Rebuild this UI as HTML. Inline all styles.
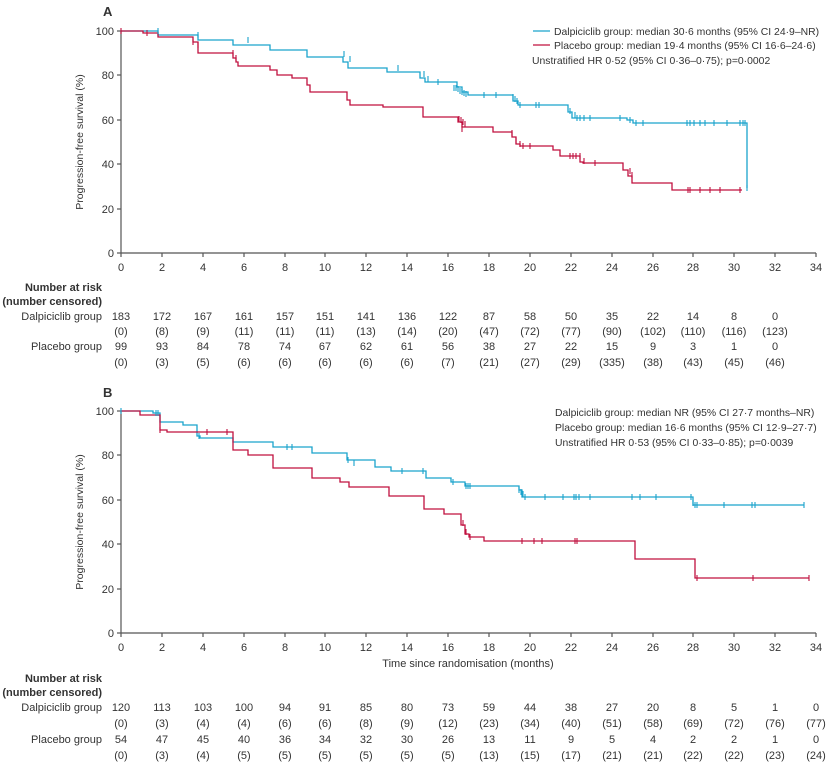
<!DOCTYPE html>
<html><head><meta charset="utf-8"><style>
body{margin:0;background:#fff;}
svg{display:block;font-family:"Liberation Sans",sans-serif;}
text{font-size:11px;fill:#333;}
.lg{font-size:10.4px;}
</style></head><body>
<svg width="834" height="762" viewBox="0 0 834 762">
<defs>
<g id="xt">
<line x1="121" y1="0" x2="121" y2="4"/><line x1="162" y1="0" x2="162" y2="4"/><line x1="203" y1="0" x2="203" y2="4"/><line x1="244" y1="0" x2="244" y2="4"/><line x1="285" y1="0" x2="285" y2="4"/><line x1="325" y1="0" x2="325" y2="4"/><line x1="366" y1="0" x2="366" y2="4"/><line x1="407" y1="0" x2="407" y2="4"/><line x1="448" y1="0" x2="448" y2="4"/><line x1="489" y1="0" x2="489" y2="4"/><line x1="530" y1="0" x2="530" y2="4"/><line x1="571" y1="0" x2="571" y2="4"/><line x1="612" y1="0" x2="612" y2="4"/><line x1="653" y1="0" x2="653" y2="4"/><line x1="693" y1="0" x2="693" y2="4"/><line x1="734" y1="0" x2="734" y2="4"/><line x1="775" y1="0" x2="775" y2="4"/><line x1="816" y1="0" x2="816" y2="4"/>
</g>
<g id="xl" text-anchor="middle">
<text x="121">0</text><text x="162">2</text><text x="203">4</text><text x="244">6</text><text x="285">8</text><text x="325">10</text><text x="366">12</text><text x="407">14</text><text x="448">16</text><text x="489">18</text><text x="530">20</text><text x="571">22</text><text x="612">24</text><text x="653">26</text><text x="693">28</text><text x="734">30</text><text x="775">32</text><text x="816">34</text>
</g>
</defs>

<!-- Panel A -->
<text x="103" y="16" style="font-weight:bold;font-size:13px">A</text>
<g stroke="#555" stroke-width="1.2" fill="none">
<line x1="121" y1="31" x2="121" y2="253"/><line x1="121" y1="253" x2="816" y2="253"/>
<line x1="117" y1="31" x2="121" y2="31"/><line x1="117" y1="75" x2="121" y2="75"/><line x1="117" y1="120" x2="121" y2="120"/><line x1="117" y1="164" x2="121" y2="164"/><line x1="117" y1="209" x2="121" y2="209"/><line x1="117" y1="253" x2="121" y2="253"/>
<use href="#xt" transform="translate(0,253)"/>
</g>
<g text-anchor="end"><text x="114" y="35">100</text><text x="114" y="79">80</text><text x="114" y="124">60</text><text x="114" y="168">40</text><text x="114" y="213">20</text><text x="114" y="257">0</text></g>
<text transform="translate(83,142) rotate(-90)" text-anchor="middle" style="font-size:10.5px">Progression-free survival (%)</text>
<use href="#xl" transform="translate(0,271)"/>

<polyline fill="none" stroke="#1aa3cc" stroke-width="1.3" points="121,31 158,31 158,35 198,35 198,40 233,40 233,45 270,45 270,50 307,50 307,57 343,57 343,62 348,62 348,68 387,68 387,72 420,72 420,78 425,78 425,82 457,82 457,87 462,87 462,92 468,92 468,95 513,95 513,101 518,101 518,105 568,105 568,112 572,112 572,118 627,118 627,120 633,120 633,123 747,123 747,188"/>
<polyline fill="none" stroke="#c0103f" stroke-width="1.3" points="121,31 143,31 143,33 158,33 158,37 193,37 193,42 198,42 198,53 233,53 233,58 236,58 236,62 238,62 238,66 270,66 270,70 277,70 277,75 292,75 292,78 307,78 307,85 310,85 310,92 347,92 347,100 350,100 350,105 383,105 383,107 423,107 423,117 458,117 458,122 462,122 462,127 493,127 493,132 512,132 512,137 516,137 516,144 520,144 520,146 553,146 553,150 560,150 560,156 580,156 580,162 583,162 583,163 623,163 623,170 628,170 628,176 632,176 632,183 672,183 672,190 742,190"/>
<g stroke="#1aa3cc" stroke-width="1.1">
<path d="M158 28v6M198 32v6M248 37v6M344 51v6M350 56v6M398 65v6M424 71v6M428 76v6M438 79v6M454 85v6M456 85v6M458 86v6M460 88v6M462 89v6M464 90v6M466 91v6M484 92v6M496 92v6M513 94v6M515 96v6M517 98v6M520 102v6M536 102v6M539 102v6M570 108v6M575 112v6M577 115v6M580 115v6M584 115v6M590 115v6M620 115v6M630 117v6M636 120v6M643 120v6M687 120v6M690 120v6M694 120v6M700 120v6M705 120v6M714 120v6M727 120v6M740 120v6M743 120v6M745 120v6M747 185v6"/>
</g>
<g stroke="#c0103f" stroke-width="1.1">
<path d="M121 28v6M147 30v6M193 39v6M198 42v6M233 50v6M236 55v6M459 116v6M461 117v6M463 119v6M465 121v6M462 126v6M512 130v6M516 138v6M520 141v6M523 143v6M530 143v6M570 153v6M573 153v6M576 153v6M580 153v6M584 158v6M595 160v6M630 168v6M632 172v6M688 187v6M690 187v6M700 187v6M710 187v6M720 187v6M740 187v6"/>
</g>
<line x1="533" y1="31" x2="550" y2="31" stroke="#1aa3cc" stroke-width="1.3"/>
<line x1="533" y1="45" x2="550" y2="45" stroke="#c0103f" stroke-width="1.3"/>
<text class="lg" x="554" y="35">Dalpiciclib group: median 30·6 months (95% CI 24·9–NR)</text>
<text class="lg" x="554" y="49">Placebo group: median 19·4 months (95% CI 16·6–24·6)</text>
<text class="lg" x="532" y="64">Unstratified HR 0·52 (95% CI 0·36–0·75); p=0·0002</text>

<text x="102" y="291" text-anchor="end" style="font-weight:bold">Number at risk</text>
<text x="102" y="305" text-anchor="end" style="font-weight:bold">(number censored)</text>
<text x="102" y="320" text-anchor="end">Dalpiciclib group</text>
<text x="102" y="350" text-anchor="end">Placebo group</text>
<g text-anchor="middle">
<g transform="translate(0,320)"><text x="121">183</text><text x="162">172</text><text x="203">167</text><text x="244">161</text><text x="285">157</text><text x="325">151</text><text x="366">141</text><text x="407">136</text><text x="448">122</text><text x="489">87</text><text x="530">58</text><text x="571">50</text><text x="612">35</text><text x="653">22</text><text x="693">14</text><text x="734">8</text><text x="775">0</text></g>
<g transform="translate(0,335)"><text x="121">(0)</text><text x="162">(8)</text><text x="203">(9)</text><text x="244">(11)</text><text x="285">(11)</text><text x="325">(11)</text><text x="366">(13)</text><text x="407">(14)</text><text x="448">(20)</text><text x="489">(47)</text><text x="530">(72)</text><text x="571">(77)</text><text x="612">(90)</text><text x="653">(102)</text><text x="693">(110)</text><text x="734">(116)</text><text x="775">(123)</text></g>
<g transform="translate(0,350)"><text x="121">99</text><text x="162">93</text><text x="203">84</text><text x="244">78</text><text x="285">74</text><text x="325">67</text><text x="366">62</text><text x="407">61</text><text x="448">56</text><text x="489">38</text><text x="530">27</text><text x="571">22</text><text x="612">15</text><text x="653">9</text><text x="693">3</text><text x="734">1</text><text x="775">0</text></g>
<g transform="translate(0,366)"><text x="121">(0)</text><text x="162">(3)</text><text x="203">(5)</text><text x="244">(6)</text><text x="285">(6)</text><text x="325">(6)</text><text x="366">(6)</text><text x="407">(6)</text><text x="448">(7)</text><text x="489">(21)</text><text x="530">(27)</text><text x="571">(29)</text><text x="612">(335)</text><text x="653">(38)</text><text x="693">(43)</text><text x="734">(45)</text><text x="775">(46)</text></g>
</g>

<!-- Panel B -->
<text x="103" y="397" style="font-weight:bold;font-size:13px">B</text>
<g stroke="#555" stroke-width="1.2" fill="none">
<line x1="121" y1="411" x2="121" y2="633"/><line x1="121" y1="633" x2="816" y2="633"/>
<line x1="117" y1="411" x2="121" y2="411"/><line x1="117" y1="455" x2="121" y2="455"/><line x1="117" y1="500" x2="121" y2="500"/><line x1="117" y1="544" x2="121" y2="544"/><line x1="117" y1="589" x2="121" y2="589"/><line x1="117" y1="633" x2="121" y2="633"/>
<use href="#xt" transform="translate(0,633)"/>
</g>
<g text-anchor="end"><text x="114" y="415">100</text><text x="114" y="459">80</text><text x="114" y="504">60</text><text x="114" y="548">40</text><text x="114" y="593">20</text><text x="114" y="637">0</text></g>
<text transform="translate(83,522) rotate(-90)" text-anchor="middle" style="font-size:10.5px">Progression-free survival (%)</text>
<use href="#xl" transform="translate(0,651)"/>
<text x="468" y="667" text-anchor="middle">Time since randomisation (months)</text>

<polyline fill="none" stroke="#1aa3cc" stroke-width="1.3" points="121,411 153,411 153,413 160,413 160,422 183,422 183,425 197,425 197,436 200,436 200,438 233,438 233,442 273,442 273,447 312,447 312,453 347,453 347,460 375,460 375,467 391,467 391,471 426,471 426,478 451,478 451,482 465,482 465,486 519,486 519,490 522,490 522,497 693,497 693,505 804,505"/>
<polyline fill="none" stroke="#c0103f" stroke-width="1.3" points="121,411 140,411 140,415 160,415 160,430 167,430 167,432 233,432 233,450 248,450 248,455 273,455 273,468 312,468 312,478 340,478 340,482 349,482 349,487 389,487 389,496 424,496 424,509 444,509 444,514 461,514 461,525 465,525 465,534 469,534 469,537 484,537 484,541 635,541 635,559 695,559 695,578 809,578"/>
<g stroke="#1aa3cc" stroke-width="1.1">
<path d="M121 408v6M156 410v6M158 410v6M199 433v6M287 444v6M292 444v6M348 457v6M354 460v6M402 468v6M423 468v6M453 479v6M466 483v6M468 483v6M470 483v6M519 487v6M521 489v6M523 491v6M525 494v6M545 494v6M563 494v6M574 494v6M576 494v6M579 494v6M590 494v6M632 494v6M640 494v6M656 494v6M691 494v6M693 500v6M695 502v6M697 502v6M724 502v6M752 502v6M755 502v6M804 502v6"/>
</g>
<g stroke="#c0103f" stroke-width="1.1">
<path d="M160 427v6M207 429v6M227 429v6M463 520v6M466 529v6M470 534v6M522 538v6M534 538v6M542 538v6M575 538v6M577 538v6M697 575v6M753 575v6M809 575v6"/>
</g>
<text class="lg" x="555" y="416">Dalpiciclib group: median NR (95% CI 27·7 months–NR)</text>
<text class="lg" x="555" y="431">Placebo group: median 16·6 months (95% CI 12·9–27·7)</text>
<text class="lg" x="555" y="446">Unstratified HR 0·53 (95% CI 0·33–0·85); p=0·0039</text>

<text x="102" y="682" text-anchor="end" style="font-weight:bold">Number at risk</text>
<text x="102" y="696" text-anchor="end" style="font-weight:bold">(number censored)</text>
<text x="102" y="711" text-anchor="end">Dalpiciclib group</text>
<text x="102" y="743" text-anchor="end">Placebo group</text>
<g text-anchor="middle">
<g transform="translate(0,711)"><text x="121">120</text><text x="162">113</text><text x="203">103</text><text x="244">100</text><text x="285">94</text><text x="325">91</text><text x="366">85</text><text x="407">80</text><text x="448">73</text><text x="489">59</text><text x="530">44</text><text x="571">38</text><text x="612">27</text><text x="653">20</text><text x="693">8</text><text x="734">5</text><text x="775">1</text><text x="816">0</text></g>
<g transform="translate(0,727)"><text x="121">(0)</text><text x="162">(3)</text><text x="203">(4)</text><text x="244">(4)</text><text x="285">(6)</text><text x="325">(6)</text><text x="366">(8)</text><text x="407">(9)</text><text x="448">(12)</text><text x="489">(23)</text><text x="530">(34)</text><text x="571">(40)</text><text x="612">(51)</text><text x="653">(58)</text><text x="693">(69)</text><text x="734">(72)</text><text x="775">(76)</text><text x="816">(77)</text></g>
<g transform="translate(0,743)"><text x="121">54</text><text x="162">47</text><text x="203">45</text><text x="244">40</text><text x="285">36</text><text x="325">34</text><text x="366">32</text><text x="407">30</text><text x="448">26</text><text x="489">13</text><text x="530">11</text><text x="571">9</text><text x="612">5</text><text x="653">4</text><text x="693">2</text><text x="734">2</text><text x="775">1</text><text x="816">0</text></g>
<g transform="translate(0,759)"><text x="121">(0)</text><text x="162">(3)</text><text x="203">(4)</text><text x="244">(5)</text><text x="285">(5)</text><text x="325">(5)</text><text x="366">(5)</text><text x="407">(5)</text><text x="448">(5)</text><text x="489">(13)</text><text x="530">(15)</text><text x="571">(17)</text><text x="612">(21)</text><text x="653">(21)</text><text x="693">(22)</text><text x="734">(22)</text><text x="775">(23)</text><text x="816">(24)</text></g>
</g>
</svg>
</body></html>
